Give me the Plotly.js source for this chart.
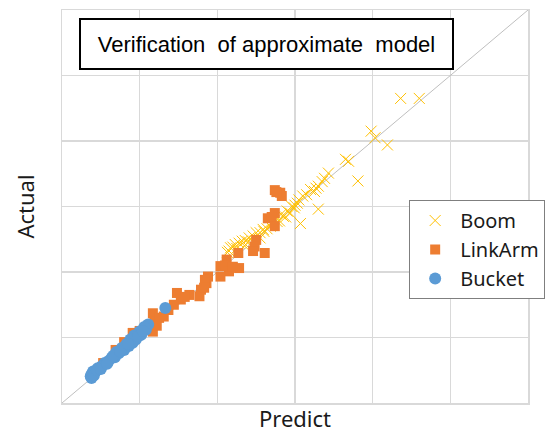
<!DOCTYPE html>
<html>
<head>
<meta charset="utf-8">
<script src="https://cdn.plot.ly/plotly-3.0.1.min.js"></script>
<style>html,body{margin:0;padding:0;background:#fff}#chart{width:555px;height:435px}</style>
</head>
<body>
<div id="chart"></div>
<script>
const boomX = [4.36,4.60,3.98,4.03,4.19,3.65,3.69,3.81,3.43,3.38,3.35,3.30,3.27,3.25,3.30,3.07,3.10,3.05,3.03,2.99,2.96,2.94,2.90,2.85,2.82,2.80,2.77,2.72,2.68,2.64,2.59,2.55,2.50,2.46,2.41,2.36,2.32,2.28,2.23,2.20,2.17,2.15,2.13,2.25,2.40,2.60,2.70,2.88,3.00,3.15,3.20,2.55,2.35];
const boomY = [4.65,4.65,4.15,4.05,3.94,3.72,3.69,3.39,3.51,3.43,3.38,3.31,3.28,3.23,2.96,2.74,3.16,3.10,3.05,2.98,3.00,2.90,2.93,2.85,2.88,2.78,2.77,2.74,2.70,2.66,2.65,2.60,2.60,2.55,2.52,2.48,2.47,2.44,2.42,2.38,2.37,2.32,2.30,2.36,2.46,2.62,2.76,2.84,3.02,3.18,3.26,2.52,2.40];
const linkX = [2.74,2.81,2.83,2.76,2.74,2.65,2.70,2.74,2.50,2.48,2.46,2.61,2.27,2.12,2.04,2.10,2.15,2.28,2.04,2.20,1.88,1.86,1.84,1.79,1.77,1.83,1.64,1.48,1.53,1.44,1.58,1.37,1.31,1.17,1.19,1.17,1.25,1.22,0.91,0.69,0.53,1.00,0.80];
const linkY = [3.25,3.21,3.16,3.22,2.90,2.82,2.84,2.70,2.49,2.39,2.32,2.29,2.29,2.19,2.09,2.10,2.01,2.06,1.93,2.08,1.93,1.83,1.88,1.73,1.63,1.76,1.65,1.68,1.58,1.50,1.62,1.42,1.32,1.37,1.25,1.09,1.30,1.18,1.07,0.81,0.61,1.10,0.93];
const bucketX = [1.33,1.11,1.08,1.06,1.02,1.00,0.95,0.93,0.91,0.88,0.86,0.83,0.80,0.77,0.73,0.70,0.68,0.64,0.60,0.55,0.51,0.46,0.43,0.40,0.38,0.37,0.38,0.41,0.45,0.50,0.58,0.66,0.75,0.85,0.98,1.04];
const bucketY = [1.45,1.20,1.12,1.16,1.04,1.09,0.97,1.03,0.92,0.97,0.87,0.90,0.81,0.84,0.76,0.78,0.70,0.69,0.64,0.61,0.56,0.53,0.48,0.48,0.44,0.41,0.38,0.42,0.50,0.52,0.60,0.72,0.79,0.90,1.02,1.10];
const refLine = [0, 6];

const traces = [
  {x: refLine, y: refLine, mode: 'lines', line: {color: '#bfbfbf', width: 1}, showlegend: false, hoverinfo: 'skip'},
  {x: boomX, y: boomY, name: 'Boom', mode: 'markers', type: 'scatter',
   marker: {symbol: 'x-thin', size: 11, line: {color: '#FFC000', width: 1}, color: '#FFC000'}},
  {x: linkX, y: linkY, name: 'LinkArm', mode: 'markers', type: 'scatter',
   marker: {symbol: 'square', size: 10, color: '#ED7D31'}},
  {x: bucketX, y: bucketY, name: 'Bucket', mode: 'markers', type: 'scatter',
   marker: {symbol: 'circle', size: 12, color: '#5B9BD5'}}
];

const axisCommon = {
  range: [0, 6], dtick: 1, tick0: 0, showticklabels: false, ticks: '',
  showgrid: true, gridcolor: '#d9d9d9', gridwidth: 1.5, zeroline: false,
  showline: true, linecolor: '#d9d9d9', linewidth: 1.5, mirror: true, fixedrange: true
};

const layout = {
  width: 555, height: 435,
  margin: {l: 62, r: 14, t: 10, b: 32},
  paper_bgcolor: '#ffffff', plot_bgcolor: '#ffffff',
  font: {family: 'Noto Sans, sans-serif', color: '#1a1a1a'},
  xaxis: Object.assign({}, axisCommon, {title: {text: 'Predict', font: {size: 22, color: '#1a1a1a'}, standoff: 8}}),
  yaxis: Object.assign({}, axisCommon, {title: {text: 'Actual', font: {size: 22, color: '#1a1a1a'}, standoff: 20}}),
  showlegend: true,
  legend: {x: 0.745, y: 0.5165, xanchor: 'left', yanchor: 'top', bgcolor: '#ffffff',
           bordercolor: '#7f7f7f', borderwidth: 1, font: {size: 20, color: '#1a1a1a'}, itemwidth: 40},
  annotations: [{
    xref: 'paper', yref: 'paper', x: 0.438, y: 0.914, xanchor: 'center', yanchor: 'middle',
    text: 'Verification  of approximate  model', showarrow: false,
    font: {family: 'Liberation Sans, Arial, sans-serif', size: 22, color: '#000000'},
    bgcolor: '#ffffff', bordercolor: '#000000', borderwidth: 2, width: 371, height: 48, borderpad: 0
  }]
};

Plotly.newPlot('chart', traces, layout, {displayModeBar: false, staticPlot: true});
</script>
</body>
</html>
